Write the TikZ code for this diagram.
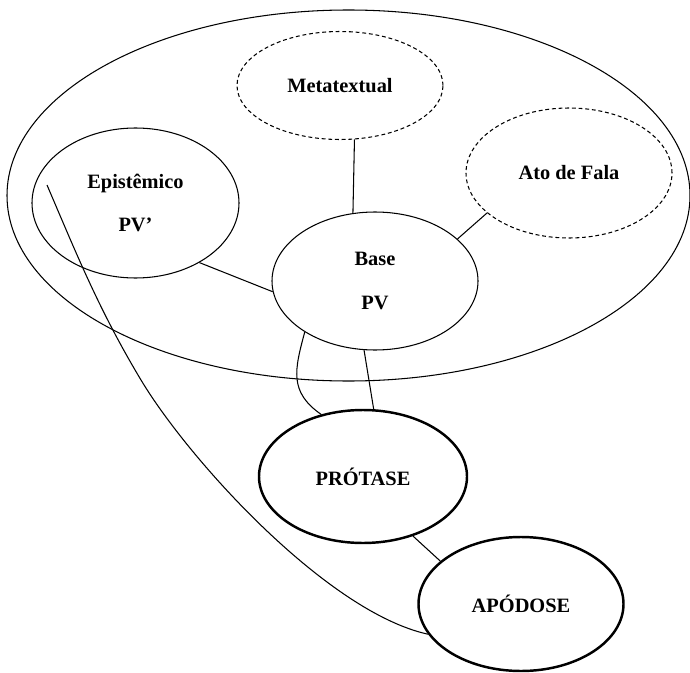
\documentclass[tikz,border=0pt]{standalone}
\usepackage{fontspec}
\setmainfont{Liberation Serif}
\usetikzlibrary{shapes.geometric}

\begin{document}
\begin{tikzpicture}[line width=0.6pt]
	\tikzstyle{elipse}=[ellipse,draw=black,inner sep=0pt,minimum width=4.12cm,align=center,font=\fontsize{11.6}{25}\selectfont\bfseries]
	\tikzstyle{pontilhada}=[elipse,dash pattern=on 2.2pt off 1.6pt]
	\tikzstyle{grossa}=[elipse,line width=1.4pt]
	\useasboundingbox (0,0) rectangle (13.8,13.44);
	\node[elipse,minimum width=13.66cm,minimum height=7.42cm] (grupo) at (6.97,9.53) {};
	\node[pontilhada,minimum height=2.16cm] (meta) at (6.80,11.73) {Metatextual};
	\node[pontilhada,minimum height=2.60cm] (ato) at (11.38,9.98) {Ato de Fala};
	\node[elipse,minimum width=4.14cm,minimum height=3.00cm] (epi) at (2.71,9.38) {Epistêmico\\PV’};
	\node[elipse,minimum height=2.76cm] (base) at (7.50,7.82) {Base\\PV};
	\node[grossa,minimum width=4.16cm,minimum height=2.66cm] (prot) at (7.26,3.91) {PRÓTASE};
	\node[grossa,minimum width=4.10cm,minimum height=2.68cm] (apo) at (10.42,1.36) {APÓDOSE};
	\coordinate (inicio) at (0.94,9.74);
	\coordinate (dobra) at (2.82,5.84);
	\draw (meta.285) -- (base.108);
	\draw (ato.206) -- (base.27);
	\draw (epi.317) -- (base.186);
	\draw (base.261) -- (prot.81);
	\draw (base.216) to[out=255,in=145,looseness=1.2] (prot.124);
	\draw (prot.310) -- (apo.152);
	\draw (inicio) .. controls (1.54,8.34) and (1.98,7.24) .. (dobra) .. controls (3.78,4.24) and (6.54,1.20) .. (apo.198);
\end{tikzpicture}
\end{document}
